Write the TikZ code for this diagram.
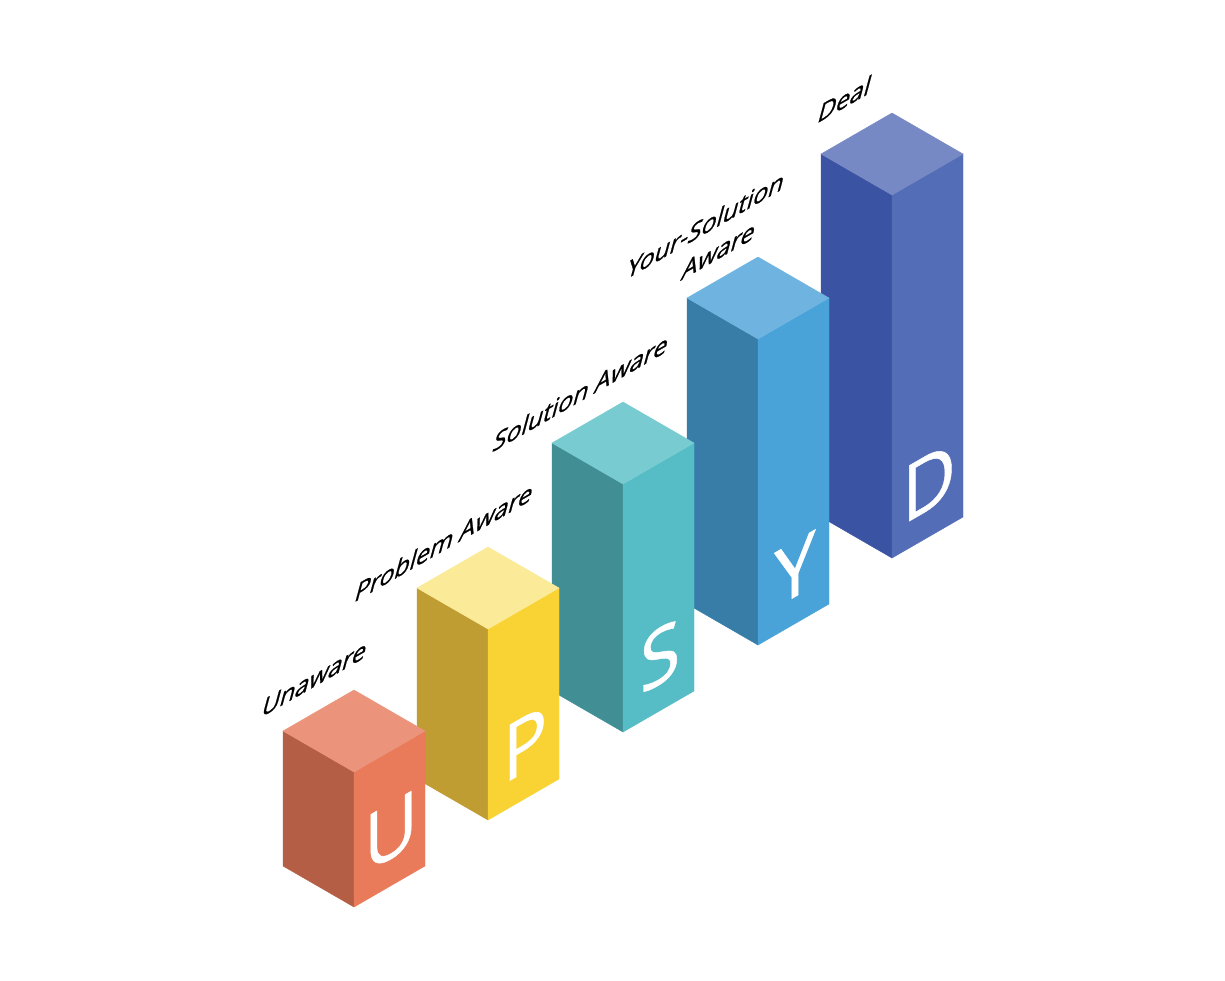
\documentclass[tikz,border=0pt]{standalone}
\usepackage{fontspec}
\setmainfont{Open Sans}
\newfontfamily\lblfont[FakeBold=0.9]{Open Sans}
\newfontfamily\letfont[FakeBold=0.6]{Open Sans}
\definecolor{uTop}{HTML}{EC947B}\definecolor{uLeft}{HTML}{B45F45}\definecolor{uRight}{HTML}{E97B5B}
\definecolor{pTop}{HTML}{FBEA98}\definecolor{pLeft}{HTML}{BF9D33}\definecolor{pRight}{HTML}{F9D333}
\definecolor{sTop}{HTML}{78CCD1}\definecolor{sLeft}{HTML}{418F95}\definecolor{sRight}{HTML}{56BDC6}
\definecolor{yTop}{HTML}{6FB4E0}\definecolor{yLeft}{HTML}{387DA8}\definecolor{yRight}{HTML}{49A3D8}
\definecolor{dTop}{HTML}{7789C4}\definecolor{dLeft}{HTML}{3B53A3}\definecolor{dRight}{HTML}{536DB6}
% #1 name, #2 centre x, #3 top y, #4 bottom y, #5 top, #6 left, #7 right colour, #8 letter
\newcommand\drawisobar[8]{%
  \filldraw[fill=#6,draw=#6,line width=0.4pt] (#2-71,#3+41) -- (#2,#3+82) -- (#2,#4) -- (#2-71,#4-41) -- cycle;
  \filldraw[fill=#7,draw=#7,line width=0.4pt] (#2,#3+82) -- (#2+71,#3+41) -- (#2+71,#4-41) -- (#2,#4) -- cycle;
  \filldraw[fill=#5,draw=#5,line width=0.4pt] (#2,#3) -- (#2+71,#3+41) -- (#2,#3+82) -- (#2-71,#3+41) -- cycle;
  \node[barletter] (#1) at (#2+37,#4-76) {#8};
}
\begin{document}
\begin{tikzpicture}[x=1pt,y=-1pt,
  barletter/.style={text=white,inner sep=0pt,font=\letfont\fontsize{78}{78}\selectfont,transform shape,cm={0.95,0.548,0,1,(0,0)}},
  stagelabel/.style={text=black,inner sep=0pt,anchor=base west,font=\lblfont\fontsize{27}{32}\selectfont,transform shape,cm={0.92,0.531,0.27,1,(0,0)}}]
\useasboundingbox (0,0) rectangle (1225,980);
\fill[white] (0,0) rectangle (1225,980);
\drawisobar{lD}{892}{113}{558}{dTop}{dLeft}{dRight}{D}
\drawisobar{lY}{758}{257}{645}{yTop}{yLeft}{yRight}{Y}
\drawisobar{lS}{623}{402}{732}{sTop}{sLeft}{sRight}{S}
\drawisobar{lP}{488}{547}{820}{pTop}{pLeft}{pRight}{P}
\drawisobar{lU}{354}{690}{907}{uTop}{uLeft}{uRight}{U}
\node[stagelabel] (tU) at (260,718) {Unaware};
\node[stagelabel] (tP) at (353,603) {Problem Aware};
\node[stagelabel] (tS) at (491,453) {Solution Aware};
\node[stagelabel] (tY1) at (625,280) {Your-Solution};
\node[stagelabel] (tY2) at (680,281) {Aware};
\node[stagelabel] (tD) at (816,124) {Deal};
\end{tikzpicture}
\end{document}
